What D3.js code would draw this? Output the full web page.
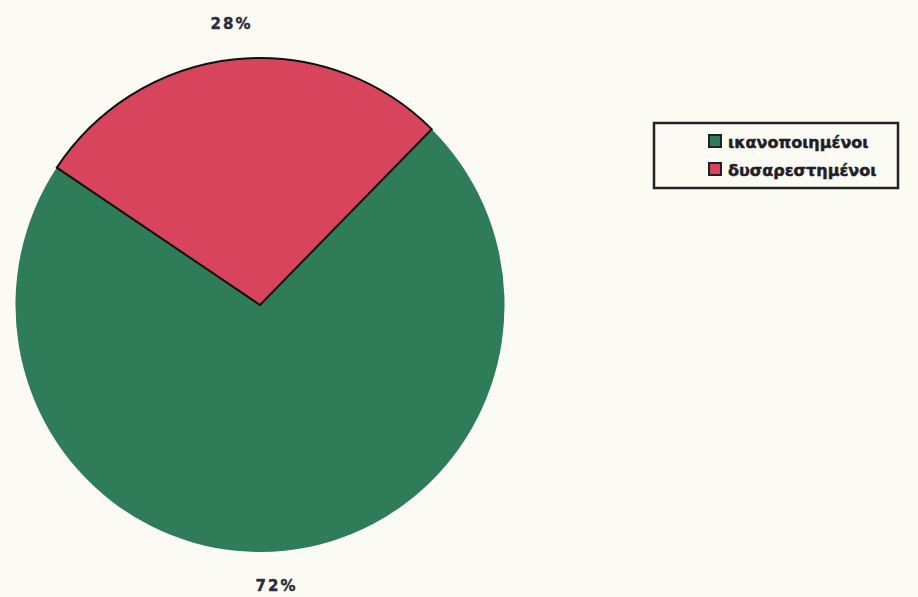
<!DOCTYPE html>
<html>
<head>
<meta charset="utf-8">
<script src="https://cdn.jsdelivr.net/npm/d3@7"></script>
<style>
html,body{margin:0;padding:0;background:#fbfbf3;}
svg{display:block;}
</style>
</head>
<body>
<svg id="chart" width="918" height="597"></svg>
<script>
const categories = ["ικανοποιημένοι", "δυσαρεστημένοι"];
const values = [72, 28];
const labels = ["72%", "28%"];
const colors = ["#2f7d58", "#d8445b"];

const svg = d3.select("#chart");
const W = 918, H = 597;
svg.append("rect").attr("width", W).attr("height", H).attr("fill", "#fbfbf3");

const cx = 260, cy = 305, r = 246;
const startDeg = 44.6;
const pie = d3.pie().sort(null).value(d => d.v)
  .startAngle(startDeg * Math.PI / 180)
  .endAngle((startDeg + 360) * Math.PI / 180);
const data = pie(categories.map((c, i) => ({c, v: values[i], l: labels[i], col: colors[i]})));
const arc = d3.arc().innerRadius(0).outerRadius(r);

const g = svg.append("g").attr("transform", `translate(${cx},${cy}) scale(0.994,1.004)`);
g.selectAll("path.slice").data(data).join("path")
  .attr("class", "slice")
  .attr("d", arc)
  .attr("fill", d => d.data.col)
  .attr("stroke", (d, i) => i === 1 ? "#111" : "none")
  .attr("stroke-width", 2)
  .attr("stroke-linejoin", "miter");

const labR = 282;
svg.selectAll("text.pct").data(data).join("text")
  .attr("class", "pct")
  .attr("x", (d, i) => cx + Math.sin((d.startAngle + d.endAngle) / 2) * labR - (i === 0 ? 12 : 0))
  .attr("y", d => cy - Math.cos((d.startAngle + d.endAngle) / 2) * labR)
  .attr("text-anchor", "middle")
  .attr("dominant-baseline", "central")
  .attr("font-family", "'DejaVu Sans', sans-serif")
  .attr("font-weight", "bold")
  .attr("font-size", 15)
  .attr("letter-spacing", 2)
  .attr("fill", "#2b2b3a")
  .attr("stroke", "#2b2b3a")
  .attr("stroke-width", 0.4)
  .text(d => d.data.l);

// legend
const lg = svg.append("g").attr("transform", "translate(654,123)");
lg.append("rect").attr("width", 244).attr("height", 65)
  .attr("fill", "none").attr("stroke", "#222").attr("stroke-width", 2.5);
const items = lg.selectAll("g.item").data(categories).join("g")
  .attr("class", "item")
  .attr("transform", (d, i) => `translate(55,${12 + i * 28})`);
items.append("rect").attr("width", 12).attr("height", 12)
  .attr("fill", (d, i) => colors[i]).attr("stroke", "#222").attr("stroke-width", 2);
items.append("text").attr("x", 19).attr("y", 12.5)
  .attr("font-family", "'DejaVu Sans', sans-serif")
  .attr("font-weight", "bold")
  .attr("font-size", 16)
  .attr("fill", "#1f1f2a")
  .attr("stroke", "#1f1f2a")
  .attr("stroke-width", 0.5)
  .text(d => d);
</script>
</body>
</html>
